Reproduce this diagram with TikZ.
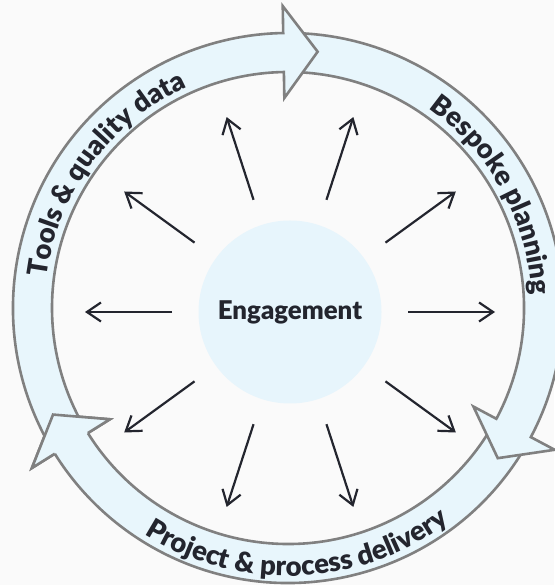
\documentclass[tikz,border=0pt]{standalone}
\usepackage{fontspec}
\setmainfont{Lato}[BoldFont={* Black}]
\usetikzlibrary{arrows.meta,decorations.text,calc}
\definecolor{bg}{RGB}{250,250,250}
\definecolor{ringfill}{RGB}{232,246,252}
\definecolor{ringline}{RGB}{128,128,128}
\definecolor{ink}{RGB}{35,37,46}
\definecolor{hubfill}{RGB}{231,245,252}
\def\Ro{275}\def\Ri{236}\def\Rho{302}\def\Rhi{210}\def\Rc{258}\def\Hd{7.6}
\newcommand\myRingArrow[2]{%
  ($(C)+(#1:\Ro)$) arc[start angle=#1, end angle=#2, radius=\Ro]
  -- ($(C)+(#2:\Rho)$) -- ($(C)+({#2-\Hd}:\Rc)$) -- ($(C)+(#2:\Rhi)$)
  -- ($(C)+(#2:\Ri)$) arc[start angle=#2, end angle=#1, radius=\Ri] -- cycle}
\newcommand\labfont{\bfseries\fontsize{27.5}{27.5}\selectfont}
\begin{document}
\begin{tikzpicture}[x=1pt,y=1pt,
  ringstyle/.style={fill=ringfill, draw=ringline, line width=2.6pt, line join=miter},
  radarrow/.style={draw=ink, line width=2.2pt, -{Straight Barb[length=14pt,width=19pt]}},
  ringlabel/.style={decorate, decoration={text along path, text color=ink, text align=center}}]
\fill[bg] (0,0) rectangle (554,585);
\useasboundingbox (0,0) rectangle (554,585);
\coordinate (C) at (288,277);
\coordinate (O) at (290,273);
% ring arrows
\path[ringstyle] \myRingArrow{-30}{-148};
\path[ringstyle] \myRingArrow{89}{-28};
\path[ringstyle] \myRingArrow{210}{91};
% redraw head of the bottom arrow on top
\fill[ringfill] ($(C)+(-148:\Rho)$) -- ($(C)+({-148-\Hd}:\Rc)$) -- ($(C)+(-148:\Rhi)$) -- cycle;
\draw[draw=ringline, line width=2.6pt, line join=miter]
  ($(C)+(-148:\Ro)$) -- ($(C)+(-148:\Rho)$) -- ($(C)+({-148-\Hd}:\Rc)$) -- ($(C)+(-148:\Rhi)$) -- ($(C)+(-148:\Ri)$);
% labels
\path[ringlabel, decoration={text={|\labfont|Tools {\&} quality data}}]
  ($(C)+(200:243)$) arc[start angle=200, end angle=87.4, radius=243];
\path[ringlabel, decoration={text={|\labfont|Bespoke planning}}]
  ($(C)+(85:244)$) arc[start angle=85, end angle=-27.2, radius=244];
\path[ringlabel, decoration={text={|\labfont|Project {\&} process delivery}}]
  ($(C)+(207:268)$) arc[start angle=207, end angle=337.6, radius=268];
% hub
\node[circle, fill=hubfill, minimum size=183pt, inner sep=0pt, text=ink,
  font=\bfseries\fontsize{25.8}{25.8}\selectfont] (hub) at (O) {Engagement};
% radial arrows
\foreach \a in {0,36,...,324}{
  \coordinate (s\a) at ($(O)+(\a:118)$);
  \coordinate (e\a) at ($(O)+(\a:205)$);
  \draw[radarrow] (s\a) -- (e\a);
}
\end{tikzpicture}
\end{document}
